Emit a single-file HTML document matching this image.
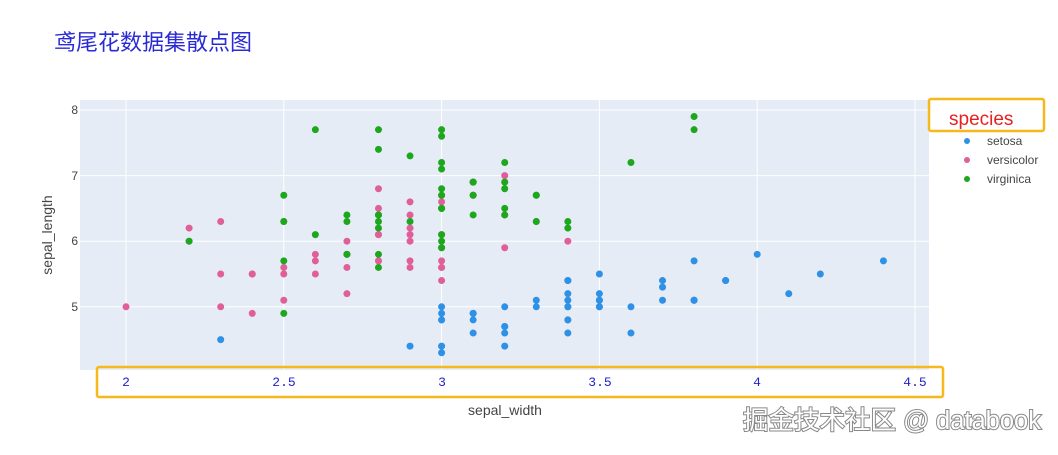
<!DOCTYPE html>
<html><head><meta charset="utf-8"><style>
body{margin:0;background:#fff;width:1058px;height:450px;overflow:hidden;font-family:"Liberation Sans","Noto Sans CJK SC",sans-serif;}
</style></head><body>
<svg width="1058" height="450" xmlns="http://www.w3.org/2000/svg" font-family="Liberation Sans, Noto Sans CJK SC, sans-serif">
<text x="54" y="50" font-size="22" fill="#2b2bd6">鸢尾花数据集散点图</text>
<rect x="80" y="100" width="849" height="270" fill="#e5ecf6"/>
<g id="grid" stroke="#fff" stroke-width="1"></g>
<g id="pts"></g>
<g font-size="12" fill="#444" text-anchor="end">
<text x="78" y="114">8</text><text x="78" y="180">7</text><text x="78" y="245">6</text><text x="78" y="311">5</text>
</g>
<text transform="translate(52,235) rotate(-90)" font-size="14" fill="#444" text-anchor="middle">sepal_length</text>
<rect x="97" y="367" width="846" height="30" fill="none" stroke="#f7b81c" stroke-width="2.5" rx="2"/>
<g font-family="Liberation Mono, monospace" font-size="13" fill="#2323c8" text-anchor="middle">
<text x="126" y="386">2</text><text x="284" y="386">2.5</text><text x="442" y="386">3</text><text x="600" y="386">3.5</text><text x="757" y="386">4</text><text x="915" y="386">4.5</text>
</g>
<text x="505" y="415" font-size="14" fill="#444" text-anchor="middle">sepal_width</text>
<rect x="929" y="99" width="115" height="32" fill="none" stroke="#f7b81c" stroke-width="2.5" rx="2"/>
<text x="949" y="125" font-size="19" fill="#e82020">species</text>
<circle cx="967" cy="141" r="3" fill="#2E91E5"/><text x="987" y="145" font-size="12" fill="#444">setosa</text>
<circle cx="967" cy="160" r="3" fill="#E15F99"/><text x="987" y="164" font-size="12" fill="#444">versicolor</text>
<circle cx="967" cy="179" r="3" fill="#1CA71C"/><text x="987" y="183" font-size="12" fill="#444">virginica</text>
<text x="743" y="429" font-size="25.5" fill="#fff" stroke="#888" stroke-width="2" paint-order="stroke">掘金技术社区 @ databook</text>
</svg>
<script>
const X=w=>126+(w-2)*315.6, Y=l=>110+(8-l)*65.6;
const g=document.getElementById('grid'),p=document.getElementById('pts'),ns='http://www.w3.org/2000/svg';
function el(t,a,par){const e=document.createElementNS(ns,t);for(const k in a)e.setAttribute(k,a[k]);par.appendChild(e);}
[2,2.5,3,3.5,4,4.5].forEach(v=>el('line',{x1:X(v),x2:X(v),y1:100,y2:370},g));
[5,6,7,8].forEach(v=>el('line',{x1:80,x2:929,y1:Y(v),y2:Y(v)},g));
const d={
'#2E91E5':"5.1,3.5;4.9,3.0;4.7,3.2;4.6,3.1;5.0,3.6;5.4,3.9;4.6,3.4;5.0,3.4;4.4,2.9;4.9,3.1;5.4,3.7;4.8,3.4;4.8,3.0;4.3,3.0;5.8,4.0;5.7,4.4;5.4,3.9;5.1,3.5;5.7,3.8;5.1,3.8;5.4,3.4;5.1,3.7;4.6,3.6;5.1,3.3;4.8,3.4;5.0,3.0;5.0,3.4;5.2,3.5;5.2,3.4;4.7,3.2;4.8,3.1;5.4,3.4;5.2,4.1;5.5,4.2;4.9,3.1;5.0,3.2;5.5,3.5;4.9,3.1;4.4,3.0;5.1,3.4;5.0,3.5;4.5,2.3;4.4,3.2;5.0,3.5;5.1,3.8;4.8,3.0;5.1,3.8;4.6,3.2;5.3,3.7;5.0,3.3",
'#E15F99':"7.0,3.2;6.4,3.2;6.9,3.1;5.5,2.3;6.5,2.8;5.7,2.8;6.3,3.3;4.9,2.4;6.6,2.9;5.2,2.7;5.0,2.0;5.9,3.0;6.0,2.2;6.1,2.9;5.6,2.9;6.7,3.1;5.6,3.0;5.8,2.7;6.2,2.2;5.6,2.5;5.9,3.2;6.1,2.8;6.3,2.5;6.1,2.8;6.4,2.9;6.6,3.0;6.8,2.8;6.7,3.0;6.0,2.9;5.7,2.6;5.5,2.4;5.5,2.4;5.8,2.7;6.0,2.7;5.4,3.0;6.0,3.4;6.7,3.1;6.3,2.3;5.6,3.0;5.5,2.5;5.5,2.6;6.1,3.0;5.8,2.6;5.0,2.3;5.6,2.7;5.7,3.0;5.7,2.9;6.2,2.9;5.1,2.5;5.7,2.8",
'#1CA71C':"6.3,3.3;5.8,2.7;7.1,3.0;6.3,2.9;6.5,3.0;7.6,3.0;4.9,2.5;7.3,2.9;6.7,2.5;7.2,3.6;6.5,3.2;6.4,2.7;6.8,3.0;5.7,2.5;5.8,2.8;6.4,3.2;6.5,3.0;7.7,3.8;7.7,2.6;6.0,2.2;6.9,3.2;5.6,2.8;7.7,2.8;6.3,2.7;6.7,3.3;7.2,3.2;6.2,2.8;6.1,3.0;6.4,2.8;7.2,3.0;7.4,2.8;7.9,3.8;6.4,2.8;6.3,2.8;6.1,2.6;7.7,3.0;6.3,3.4;6.4,3.1;6.0,3.0;6.9,3.1;6.7,3.1;6.9,3.1;5.8,2.7;6.8,3.2;6.7,3.3;6.7,3.0;6.3,2.5;6.5,3.0;6.2,3.4;5.9,3.0"};
for(const c in d)d[c].split(';').forEach(s=>{const[l,w]=s.split(',').map(Number);el('circle',{cx:X(w),cy:Y(l),r:3.5,fill:c},p);});
</script>
</body></html>
